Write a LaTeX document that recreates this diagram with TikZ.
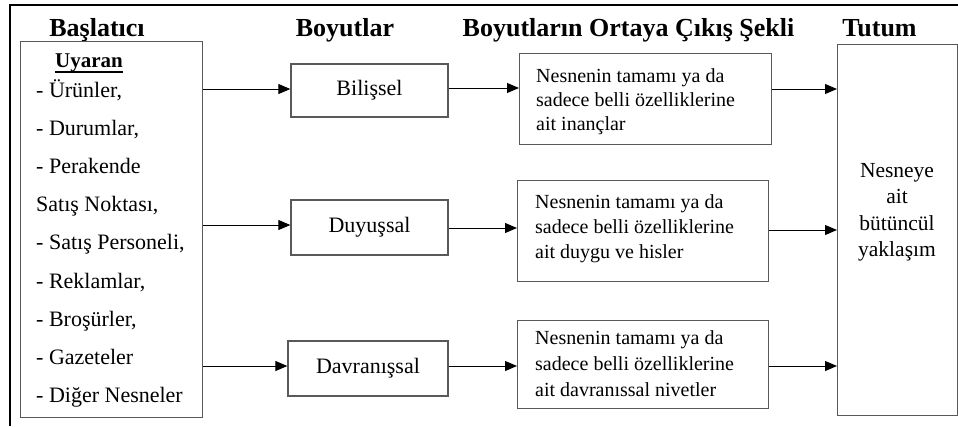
\documentclass[tikz,border=0pt]{standalone}
\usepackage{fontspec}
\setmainfont{Liberation Serif}
\usetikzlibrary{arrows.meta}
\begin{document}
\begin{tikzpicture}[x=1pt,y=-1pt,
  boxline/.style={draw=black!65, line width=1.3pt, inner sep=0pt},
  head/.style={font=\fontsize{26}{30}\selectfont\bfseries, anchor=base, inner sep=0pt},
  item/.style={font=\fontsize{22}{26}\selectfont, anchor=base west, inner sep=0pt},
  desc/.style={font=\fontsize{20}{24}\selectfont, anchor=base west, inner sep=0pt},
  whole/.style={font=\fontsize{21.5}{26}\selectfont, anchor=base, inner sep=0pt},
  dimtext/.style={font=\fontsize{22}{26}\selectfont},
  arr/.style={-{Triangle[length=12pt,width=10pt]}, line width=1pt, black},
]
\useasboundingbox (0,0) rectangle (958,426);

% outer frame (top and left edges)
\draw[line width=2pt] (9.5,426) -- (9.5,5) -- (958,5);

% column headings
\node[head] (hA) at (97,36) {Başlatıcı};
\node[head] (hB) at (345,36) {Boyutlar};
\node[head] (hC) at (628.5,36) {Boyutların Ortaya Çıkış Şekli};
\node[head] (hD) at (879.5,36) {Tutum};

% stimulus box
\node[boxline, anchor=north west, minimum width=182, minimum height=376] (src) at (20,41) {};
\node[font=\fontsize{21}{25}\selectfont\bfseries, anchor=base, inner sep=0pt] (uy) at (89,67) {Uyaran};
\draw[line width=1.6pt] ([yshift=-5pt]uy.base west) -- ([yshift=-5pt]uy.base east);
\foreach \yy/\tt [count=\i] in {97/{- Ürünler,}, 135/{- Durumlar,}, 173/{- Perakende},
    211/{Satış Noktası,}, 249/{- Satış Personeli,}, 288/{- Reklamlar,},
    326/{- Broşürler,}, 364/{- Gazeteler}, 402/{- Diğer Nesneler}}
  \node[item] (s\i) at (36,\yy) {\tt};

% dimension boxes
\node[boxline, dimtext, minimum width=157, minimum height=53] (bil) at (369.5,90.5) {Bilişsel};
\node[boxline, dimtext, minimum width=157, minimum height=55] (duy) at (369.5,227.5) {Duyuşsal};
\node[boxline, dimtext, minimum width=160, minimum height=55] (dav) at (368,368.5) {Davranışsal};

% manifestation boxes
\node[boxline, anchor=north west, minimum width=252, minimum height=91] (c1) at (519,53) {};
\node[boxline, anchor=north west, minimum width=251, minimum height=101] (c2) at (517,180) {};
\node[boxline, anchor=north west, minimum width=251, minimum height=88] (c3) at (517,320) {};

\node[desc] (c1a) at (536,82) {Nesnenin tamamı ya da};
\node[desc] (c1b) at (536,106) {sadece belli özelliklerine};
\node[desc] (c1c) at (536,130) {ait inançlar};

\node[desc] (c2a) at (535,208) {Nesnenin tamamı ya da};
\node[desc] (c2b) at (535,233) {sadece belli özelliklerine};
\node[desc] (c2c) at (535,258) {ait duygu ve hisler};

\node[desc] (c3a) at (535,344) {Nesnenin tamamı ya da};
\node[desc] (c3b) at (535,370) {sadece belli özelliklerine};
\node[desc] (c3c) at (535,396) {ait davranıssal nivetler};

% attitude box
\node[boxline, anchor=north west, minimum width=120, minimum height=371] (tut) at (837,44) {};
\node[whole] (t1) at (897,177) {Nesneye};
\node[whole] (t2) at (897,203) {ait};
\node[whole] (t3) at (897,230) {bütüncül};
\node[whole] (t4) at (897,256) {yaklaşım};

% connectors
\draw[arr] (src.east |- 0,89) -- (bil.west |- 0,89);
\draw[arr] (bil.east |- 0,88) -- (c1.west |- 0,88);
\draw[arr] (c1.east |- 0,89) -- (tut.west |- 0,89);

\draw[arr] (src.east |- 0,225) -- (duy.west |- 0,225);
\draw[arr] (duy.east |- 0,228) -- (c2.west |- 0,228);
\draw[arr] (c2.east |- 0,230) -- (tut.west |- 0,230);

\draw[arr] (src.east |- 0,366) -- (dav.west |- 0,366);
\draw[arr] (dav.east |- 0,366) -- (c3.west |- 0,366);
\draw[arr] (c3.east |- 0,366) -- (tut.west |- 0,366);
\end{tikzpicture}
\end{document}
